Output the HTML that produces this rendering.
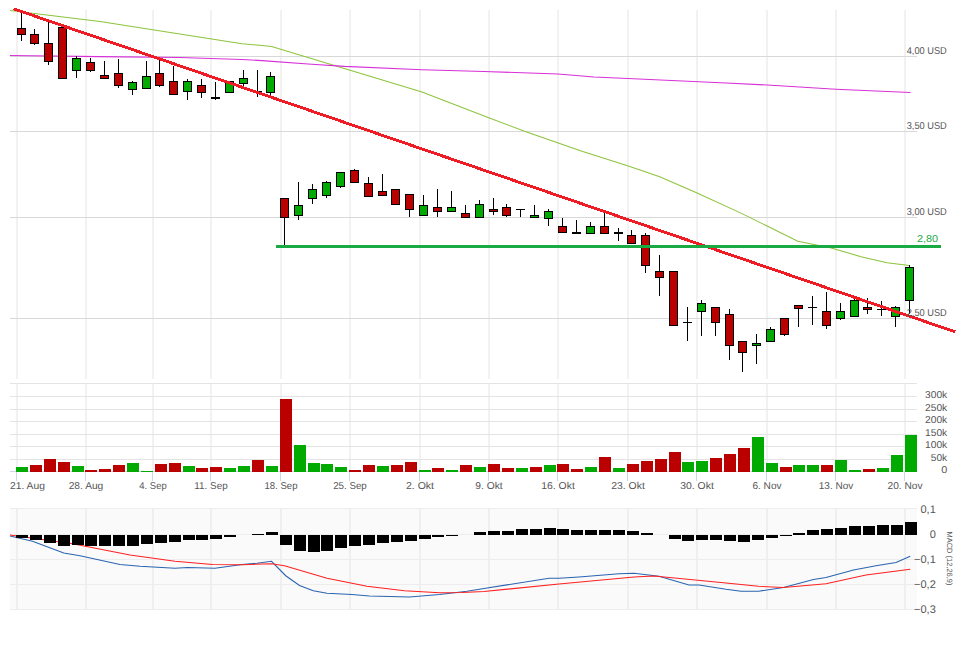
<!DOCTYPE html><html><head><meta charset="utf-8"><style>html,body{margin:0;padding:0;background:#fff;width:968px;height:645px;overflow:hidden}svg{display:block}text{font-family:"Liberation Sans",sans-serif;text-rendering:geometricPrecision}</style></head><body>
<svg width="968" height="645" viewBox="0 0 968 645">
<rect x="10" y="509" width="907" height="101" fill="#fafafa"/>
<path d="M17 10V379M17 383V471M17 509V610M86 10V379M86 383V471M86 509V610M153 10V379M153 383V471M153 509V610M211 10V379M211 383V471M211 509V610M281 10V379M281 383V471M281 509V610M350 10V379M350 383V471M350 509V610M420 10V379M420 383V471M420 509V610M489 10V379M489 383V471M489 509V610M558 10V379M558 383V471M558 509V610M628 10V379M628 383V471M628 509V610M697 10V379M697 383V471M697 509V610M767 10V379M767 383V471M767 509V610M836 10V379M836 383V471M836 509V610M905 10V379M905 383V471M905 509V610" stroke="#e4e4e4" stroke-width="1" fill="none"/>
<path d="M10 56.5H917M10 131.5H917M10 217.5H917M10 318.5H917" stroke="#d8d8d8" stroke-width="1" fill="none" shape-rendering="crispEdges"/>
<path d="M10 383.5H917M10 396.5H917M10 409.5H917M10 421.5H917M10 434.5H917M10 446.5H917M10 459.5H917" stroke="#e4e4e4" stroke-width="1" fill="none" shape-rendering="crispEdges"/>
<path d="M10 508.5H917M10 534.5H917M10 559.5H917M10 584.5H917M10 609.5H917" stroke="#ededed" stroke-width="1" fill="none" shape-rendering="crispEdges"/>
<path d="M10 471.5H917" stroke="#ccd6eb" stroke-width="1" shape-rendering="crispEdges"/>
<path d="M16.5 471V481M85.5 471V481M152.5 471V481M210.5 471V481M280.5 471V481M349.5 471V481M419.5 471V481M488.5 471V481M557.5 471V481M627.5 471V481M696.5 471V481M766.5 471V481M835.5 471V481M904.5 471V481" stroke="#ccd6eb" stroke-width="1" shape-rendering="crispEdges"/>
<polyline points="10,10.4 100,21.5 242,43.75 262,45.4 271.6,46.5 422,92.1 489.4,118 524.5,131.2 582,151.2 628.3,166 659.7,176.8 696,192.5 742,213.6 767.1,226 797.8,241.3 831.3,248 861,256.7 887,262.7 909.4,265.5" fill="none" stroke="#8cc43c" stroke-width="1.05"/>
<polyline points="10,55.5 100,56.6 180,57.5 242,59.5 262,60.6 311.6,64.2 344.6,66.4 422,69.7 484,71.5 558,74 594,77 628,78.5 726,83 767.25,85 836,89.25 910.5,92.5" fill="none" stroke="#d830d8" stroke-width="1.1"/>
<g shape-rendering="crispEdges"><path d="M21.5 12V41" stroke="#000" stroke-width="1"/><rect x="17.5" y="28.5" width="8" height="6" fill="#bb0000" stroke="#000" stroke-width="1"/><path d="M34.5 29V45" stroke="#000" stroke-width="1"/><rect x="30.5" y="34.5" width="8" height="9" fill="#bb0000" stroke="#000" stroke-width="1"/><path d="M48.5 22V65" stroke="#000" stroke-width="1"/><rect x="44.5" y="43.5" width="8" height="18" fill="#bb0000" stroke="#000" stroke-width="1"/><path d="M62.5 27V79" stroke="#000" stroke-width="1"/><rect x="58.5" y="27.5" width="8" height="51" fill="#bb0000" stroke="#000" stroke-width="1"/><path d="M76.5 56V78" stroke="#000" stroke-width="1"/><rect x="72.5" y="58.5" width="8" height="12" fill="#00aa00" stroke="#000" stroke-width="1"/><path d="M90.5 58V72" stroke="#000" stroke-width="1"/><rect x="86.5" y="62.5" width="8" height="8" fill="#bb0000" stroke="#000" stroke-width="1"/><path d="M104.5 61V79" stroke="#000" stroke-width="1"/><rect x="100.5" y="75.5" width="8" height="3" fill="#bb0000" stroke="#000" stroke-width="1"/><path d="M118.5 59V88" stroke="#000" stroke-width="1"/><rect x="114.5" y="73.5" width="8" height="12" fill="#bb0000" stroke="#000" stroke-width="1"/><path d="M132.5 81V95" stroke="#000" stroke-width="1"/><rect x="128.5" y="82.5" width="8" height="7" fill="#00aa00" stroke="#000" stroke-width="1"/><path d="M146.5 61V89" stroke="#000" stroke-width="1"/><rect x="142.5" y="76.5" width="8" height="12" fill="#00aa00" stroke="#000" stroke-width="1"/><path d="M159.5 60V87" stroke="#000" stroke-width="1"/><rect x="155.5" y="73.5" width="8" height="12" fill="#bb0000" stroke="#000" stroke-width="1"/><path d="M173.5 66V95" stroke="#000" stroke-width="1"/><rect x="169.5" y="81.5" width="8" height="13" fill="#bb0000" stroke="#000" stroke-width="1"/><path d="M187.5 79V100" stroke="#000" stroke-width="1"/><rect x="183.5" y="81.5" width="8" height="10" fill="#00aa00" stroke="#000" stroke-width="1"/><path d="M201.5 79V98" stroke="#000" stroke-width="1"/><rect x="197.5" y="85.5" width="8" height="7" fill="#bb0000" stroke="#000" stroke-width="1"/><path d="M215.5 82V100" stroke="#000" stroke-width="1"/><rect x="211" y="97" width="9" height="2" fill="#000"/><path d="M229.5 81V93" stroke="#000" stroke-width="1"/><rect x="225.5" y="81.5" width="8" height="11" fill="#00aa00" stroke="#000" stroke-width="1"/><path d="M243.5 70V86" stroke="#000" stroke-width="1"/><rect x="239.5" y="78.5" width="8" height="5" fill="#00aa00" stroke="#000" stroke-width="1"/><path d="M257.5 70V97" stroke="#000" stroke-width="1"/><rect x="253" y="91" width="9" height="1" fill="#000"/><path d="M270.5 72V96" stroke="#000" stroke-width="1"/><rect x="266.5" y="76.5" width="8" height="16" fill="#00aa00" stroke="#000" stroke-width="1"/><path d="M284.5 198V245" stroke="#000" stroke-width="1"/><rect x="280.5" y="198.5" width="8" height="19" fill="#bb0000" stroke="#000" stroke-width="1"/><path d="M298.5 182V220" stroke="#000" stroke-width="1"/><rect x="294.5" y="205.5" width="8" height="10" fill="#00aa00" stroke="#000" stroke-width="1"/><path d="M312.5 184V204" stroke="#000" stroke-width="1"/><rect x="308.5" y="189.5" width="8" height="9" fill="#00aa00" stroke="#000" stroke-width="1"/><path d="M326.5 181V198" stroke="#000" stroke-width="1"/><rect x="322.5" y="182.5" width="8" height="13" fill="#00aa00" stroke="#000" stroke-width="1"/><path d="M340.5 172V188" stroke="#000" stroke-width="1"/><rect x="336.5" y="172.5" width="8" height="14" fill="#00aa00" stroke="#000" stroke-width="1"/><path d="M354.5 169V183" stroke="#000" stroke-width="1"/><rect x="350.5" y="170.5" width="8" height="12" fill="#bb0000" stroke="#000" stroke-width="1"/><path d="M368.5 177V197" stroke="#000" stroke-width="1"/><rect x="364.5" y="183.5" width="8" height="13" fill="#bb0000" stroke="#000" stroke-width="1"/><path d="M382.5 174V196" stroke="#000" stroke-width="1"/><rect x="378.5" y="191.5" width="8" height="4" fill="#bb0000" stroke="#000" stroke-width="1"/><path d="M395.5 189V205" stroke="#000" stroke-width="1"/><rect x="391.5" y="189.5" width="8" height="15" fill="#bb0000" stroke="#000" stroke-width="1"/><path d="M409.5 194V217" stroke="#000" stroke-width="1"/><rect x="405.5" y="194.5" width="8" height="15" fill="#bb0000" stroke="#000" stroke-width="1"/><path d="M423.5 195V216" stroke="#000" stroke-width="1"/><rect x="419.5" y="205.5" width="8" height="10" fill="#00aa00" stroke="#000" stroke-width="1"/><path d="M437.5 189V217" stroke="#000" stroke-width="1"/><rect x="433.5" y="207.5" width="8" height="4" fill="#bb0000" stroke="#000" stroke-width="1"/><path d="M451.5 191V212" stroke="#000" stroke-width="1"/><rect x="447.5" y="207.5" width="8" height="4" fill="#00aa00" stroke="#000" stroke-width="1"/><path d="M465.5 205V218" stroke="#000" stroke-width="1"/><rect x="461.5" y="213.5" width="8" height="4" fill="#bb0000" stroke="#000" stroke-width="1"/><path d="M479.5 200V218" stroke="#000" stroke-width="1"/><rect x="475.5" y="204.5" width="8" height="13" fill="#00aa00" stroke="#000" stroke-width="1"/><path d="M493.5 198V215" stroke="#000" stroke-width="1"/><rect x="489.5" y="209.5" width="8" height="2" fill="#bb0000" stroke="#000" stroke-width="1"/><path d="M506.5 204V217" stroke="#000" stroke-width="1"/><rect x="502.5" y="207.5" width="8" height="8" fill="#bb0000" stroke="#000" stroke-width="1"/><path d="M520.5 209V217" stroke="#000" stroke-width="1"/><rect x="516" y="209" width="9" height="1" fill="#000"/><path d="M534.5 205V218" stroke="#000" stroke-width="1"/><rect x="530.5" y="215.5" width="8" height="2" fill="#00aa00" stroke="#000" stroke-width="1"/><path d="M548.5 209V226" stroke="#000" stroke-width="1"/><rect x="544.5" y="211.5" width="8" height="7" fill="#00aa00" stroke="#000" stroke-width="1"/><path d="M562.5 218V233" stroke="#000" stroke-width="1"/><rect x="558.5" y="226.5" width="8" height="6" fill="#bb0000" stroke="#000" stroke-width="1"/><path d="M576.5 220V234" stroke="#000" stroke-width="1"/><rect x="572" y="232" width="9" height="2" fill="#000"/><path d="M590.5 222V234" stroke="#000" stroke-width="1"/><rect x="586.5" y="226.5" width="8" height="7" fill="#00aa00" stroke="#000" stroke-width="1"/><path d="M604.5 212V234" stroke="#000" stroke-width="1"/><rect x="600.5" y="226.5" width="8" height="7" fill="#bb0000" stroke="#000" stroke-width="1"/><path d="M618.5 228V241" stroke="#000" stroke-width="1"/><rect x="614" y="232" width="9" height="2" fill="#000"/><path d="M631.5 230V244" stroke="#000" stroke-width="1"/><rect x="627.5" y="235.5" width="8" height="8" fill="#bb0000" stroke="#000" stroke-width="1"/><path d="M645.5 233V273" stroke="#000" stroke-width="1"/><rect x="641.5" y="235.5" width="8" height="30" fill="#bb0000" stroke="#000" stroke-width="1"/><path d="M659.5 255V296" stroke="#000" stroke-width="1"/><rect x="655.5" y="271.5" width="8" height="6" fill="#bb0000" stroke="#000" stroke-width="1"/><path d="M673.5 271V326" stroke="#000" stroke-width="1"/><rect x="669.5" y="271.5" width="8" height="54" fill="#bb0000" stroke="#000" stroke-width="1"/><path d="M687.5 307V341" stroke="#000" stroke-width="1"/><rect x="683" y="322" width="9" height="1" fill="#000"/><path d="M701.5 300V336" stroke="#000" stroke-width="1"/><rect x="697.5" y="303.5" width="8" height="8" fill="#00aa00" stroke="#000" stroke-width="1"/><path d="M715.5 307V336" stroke="#000" stroke-width="1"/><rect x="711.5" y="307.5" width="8" height="15" fill="#bb0000" stroke="#000" stroke-width="1"/><path d="M729.5 309V360" stroke="#000" stroke-width="1"/><rect x="725.5" y="314.5" width="8" height="31" fill="#bb0000" stroke="#000" stroke-width="1"/><path d="M742.5 341V372" stroke="#000" stroke-width="1"/><rect x="738.5" y="341.5" width="8" height="11" fill="#bb0000" stroke="#000" stroke-width="1"/><path d="M756.5 334V364" stroke="#000" stroke-width="1"/><rect x="752.5" y="343.5" width="8" height="2" fill="#00aa00" stroke="#000" stroke-width="1"/><path d="M770.5 327V342" stroke="#000" stroke-width="1"/><rect x="766.5" y="329.5" width="8" height="12" fill="#00aa00" stroke="#000" stroke-width="1"/><path d="M784.5 318V336" stroke="#000" stroke-width="1"/><rect x="780.5" y="318.5" width="8" height="16" fill="#bb0000" stroke="#000" stroke-width="1"/><path d="M798.5 305V327" stroke="#000" stroke-width="1"/><rect x="794.5" y="305.5" width="8" height="3" fill="#bb0000" stroke="#000" stroke-width="1"/><path d="M812.5 296V325" stroke="#000" stroke-width="1"/><rect x="808" y="307" width="9" height="1" fill="#000"/><path d="M826.5 292V329" stroke="#000" stroke-width="1"/><rect x="822.5" y="311.5" width="8" height="14" fill="#bb0000" stroke="#000" stroke-width="1"/><path d="M840.5 303V320" stroke="#000" stroke-width="1"/><rect x="836.5" y="311.5" width="8" height="7" fill="#00aa00" stroke="#000" stroke-width="1"/><path d="M854.5 299V317" stroke="#000" stroke-width="1"/><rect x="850.5" y="300.5" width="8" height="16" fill="#00aa00" stroke="#000" stroke-width="1"/><path d="M867.5 298V314" stroke="#000" stroke-width="1"/><rect x="863.5" y="307.5" width="8" height="2" fill="#bb0000" stroke="#000" stroke-width="1"/><path d="M881.5 301V316" stroke="#000" stroke-width="1"/><rect x="877" y="309" width="9" height="1" fill="#000"/><path d="M895.5 306V327" stroke="#000" stroke-width="1"/><rect x="891.5" y="307.5" width="8" height="9" fill="#00aa00" stroke="#000" stroke-width="1"/><path d="M909.5 265V314" stroke="#000" stroke-width="1"/><rect x="905.5" y="267.5" width="8" height="33" fill="#00aa00" stroke="#000" stroke-width="1"/></g>
<line x1="13.5" y1="8.8" x2="955.3" y2="331.9" stroke="#ee1c24" stroke-width="2.9" shape-rendering="crispEdges"/>
<rect x="276" y="245" width="665" height="3" fill="#1aaa44"/>
<g shape-rendering="crispEdges"><rect x="16" y="467" width="12" height="5" fill="#00aa00"/><rect x="30" y="465" width="12" height="7" fill="#bb0000"/><rect x="44" y="459" width="12" height="13" fill="#bb0000"/><rect x="58" y="462" width="12" height="10" fill="#bb0000"/><rect x="72" y="466" width="12" height="6" fill="#00aa00"/><rect x="85" y="470" width="12" height="2" fill="#bb0000"/><rect x="99" y="469" width="12" height="3" fill="#bb0000"/><rect x="113" y="465" width="12" height="7" fill="#bb0000"/><rect x="127" y="463" width="12" height="9" fill="#00aa00"/><rect x="141" y="471" width="12" height="1" fill="#00aa00"/><rect x="155" y="464" width="12" height="8" fill="#bb0000"/><rect x="169" y="463" width="12" height="9" fill="#bb0000"/><rect x="183" y="466" width="12" height="6" fill="#00aa00"/><rect x="196" y="468" width="12" height="4" fill="#bb0000"/><rect x="210" y="467" width="12" height="5" fill="#bb0000"/><rect x="224" y="468" width="12" height="4" fill="#00aa00"/><rect x="238" y="466" width="12" height="6" fill="#00aa00"/><rect x="252" y="460" width="12" height="12" fill="#bb0000"/><rect x="266" y="466" width="12" height="6" fill="#00aa00"/><rect x="280" y="399" width="12" height="73" fill="#bb0000"/><rect x="294" y="445" width="12" height="27" fill="#00aa00"/><rect x="308" y="463" width="12" height="9" fill="#00aa00"/><rect x="321" y="464" width="12" height="8" fill="#00aa00"/><rect x="335" y="467" width="12" height="5" fill="#00aa00"/><rect x="349" y="470" width="12" height="2" fill="#bb0000"/><rect x="363" y="465" width="12" height="7" fill="#bb0000"/><rect x="377" y="466" width="12" height="6" fill="#00aa00"/><rect x="391" y="465" width="12" height="7" fill="#bb0000"/><rect x="405" y="462" width="12" height="10" fill="#bb0000"/><rect x="419" y="470" width="12" height="2" fill="#00aa00"/><rect x="432" y="468" width="12" height="4" fill="#bb0000"/><rect x="446" y="470" width="12" height="2" fill="#00aa00"/><rect x="460" y="465" width="12" height="7" fill="#bb0000"/><rect x="474" y="467" width="12" height="5" fill="#00aa00"/><rect x="488" y="464" width="12" height="8" fill="#bb0000"/><rect x="502" y="468" width="12" height="4" fill="#bb0000"/><rect x="516" y="468" width="12" height="4" fill="#00aa00"/><rect x="530" y="467" width="12" height="5" fill="#bb0000"/><rect x="544" y="465" width="12" height="7" fill="#00aa00"/><rect x="557" y="464" width="12" height="8" fill="#bb0000"/><rect x="571" y="469" width="12" height="3" fill="#bb0000"/><rect x="585" y="467" width="12" height="5" fill="#00aa00"/><rect x="599" y="457" width="12" height="15" fill="#bb0000"/><rect x="613" y="468" width="12" height="4" fill="#00aa00"/><rect x="627" y="464" width="12" height="8" fill="#bb0000"/><rect x="641" y="461" width="12" height="11" fill="#bb0000"/><rect x="655" y="459" width="12" height="13" fill="#bb0000"/><rect x="669" y="452" width="12" height="20" fill="#bb0000"/><rect x="682" y="462" width="12" height="10" fill="#00aa00"/><rect x="696" y="461" width="12" height="11" fill="#00aa00"/><rect x="710" y="458" width="12" height="14" fill="#bb0000"/><rect x="724" y="454" width="12" height="18" fill="#bb0000"/><rect x="738" y="448" width="12" height="24" fill="#bb0000"/><rect x="752" y="437" width="12" height="35" fill="#00aa00"/><rect x="766" y="463" width="12" height="9" fill="#00aa00"/><rect x="780" y="467" width="12" height="5" fill="#bb0000"/><rect x="793" y="465" width="12" height="7" fill="#00aa00"/><rect x="807" y="465" width="12" height="7" fill="#00aa00"/><rect x="821" y="465" width="12" height="7" fill="#bb0000"/><rect x="835" y="460" width="12" height="12" fill="#00aa00"/><rect x="849" y="470" width="12" height="2" fill="#00aa00"/><rect x="863" y="469" width="12" height="3" fill="#bb0000"/><rect x="877" y="468" width="12" height="4" fill="#00aa00"/><rect x="891" y="455" width="12" height="17" fill="#00aa00"/><rect x="905" y="435" width="12" height="37" fill="#00aa00"/></g>
<polyline points="10,536 32.5,541.25 63.75,553 80,555.75 120,564.5 140,566.25 175,568.25 187.5,567.5 215,568.25 242,564.5 257,563.25 271.5,561.25 285.75,575.75 299.5,585.5 313.25,590.75 327,593.25 352,594.5 369.5,596 409.5,597 439.5,594.5 467,591.25 484,588.5 549,578.25 559,578.25 579,577 619,573.75 634,573.25 659,576.25 689,585 699,585 726,589.25 741,591.25 758.5,591.25 783.5,587.5 813.5,579.5 826,577.5 853.5,570 876,565.75 896,562.5 910.25,556.25" fill="none" stroke="#2a64b0" stroke-width="1.1"/>
<polyline points="10,535 72.5,543.75 130,555 175,561.25 212.5,564.5 242,564.75 271.5,563.75 284.5,565.75 327,578.25 367,586.25 404.5,590.75 439.5,592.75 462,592.5 484,591.5 559,584 634,577 654,576 726,583 758.5,586.25 783.5,587.5 826,583.75 866,575 910.25,569.25" fill="none" stroke="#ff2020" stroke-width="1.05"/>
<g shape-rendering="crispEdges"><rect x="16" y="535" width="12" height="3" fill="#000"/><rect x="30" y="535" width="12" height="5" fill="#000"/><rect x="44" y="535" width="12" height="8" fill="#000"/><rect x="58" y="535" width="12" height="11" fill="#000"/><rect x="72" y="535" width="12" height="10" fill="#000"/><rect x="85" y="535" width="12" height="11" fill="#000"/><rect x="99" y="535" width="12" height="11" fill="#000"/><rect x="113" y="535" width="12" height="11" fill="#000"/><rect x="127" y="535" width="12" height="11" fill="#000"/><rect x="141" y="535" width="12" height="9" fill="#000"/><rect x="155" y="535" width="12" height="8" fill="#000"/><rect x="169" y="535" width="12" height="7" fill="#000"/><rect x="183" y="535" width="12" height="5" fill="#000"/><rect x="196" y="535" width="12" height="5" fill="#000"/><rect x="210" y="535" width="12" height="4" fill="#000"/><rect x="224" y="535" width="12" height="2" fill="#000"/><rect x="252" y="534" width="12" height="1" fill="#000"/><rect x="266" y="532" width="12" height="3" fill="#000"/><rect x="280" y="535" width="12" height="10" fill="#000"/><rect x="294" y="535" width="12" height="16" fill="#000"/><rect x="308" y="535" width="12" height="17" fill="#000"/><rect x="321" y="535" width="12" height="16" fill="#000"/><rect x="335" y="535" width="12" height="13" fill="#000"/><rect x="349" y="535" width="12" height="11" fill="#000"/><rect x="363" y="535" width="12" height="10" fill="#000"/><rect x="377" y="535" width="12" height="8" fill="#000"/><rect x="391" y="535" width="12" height="7" fill="#000"/><rect x="405" y="535" width="12" height="6" fill="#000"/><rect x="419" y="535" width="12" height="4" fill="#000"/><rect x="432" y="535" width="12" height="2" fill="#000"/><rect x="446" y="535" width="12" height="1" fill="#000"/><rect x="474" y="532" width="12" height="3" fill="#000"/><rect x="488" y="531" width="12" height="4" fill="#000"/><rect x="502" y="531" width="12" height="4" fill="#000"/><rect x="516" y="529" width="12" height="6" fill="#000"/><rect x="530" y="529" width="12" height="6" fill="#000"/><rect x="544" y="528" width="12" height="7" fill="#000"/><rect x="557" y="529" width="12" height="6" fill="#000"/><rect x="571" y="530" width="12" height="5" fill="#000"/><rect x="585" y="530" width="12" height="5" fill="#000"/><rect x="599" y="530" width="12" height="5" fill="#000"/><rect x="613" y="530" width="12" height="5" fill="#000"/><rect x="627" y="531" width="12" height="4" fill="#000"/><rect x="641" y="533" width="12" height="2" fill="#000"/><rect x="669" y="535" width="12" height="4" fill="#000"/><rect x="682" y="535" width="12" height="6" fill="#000"/><rect x="696" y="535" width="12" height="5" fill="#000"/><rect x="710" y="535" width="12" height="5" fill="#000"/><rect x="724" y="535" width="12" height="6" fill="#000"/><rect x="738" y="535" width="12" height="7" fill="#000"/><rect x="752" y="535" width="12" height="5" fill="#000"/><rect x="766" y="535" width="12" height="3" fill="#000"/><rect x="780" y="535" width="12" height="1" fill="#000"/><rect x="793" y="533" width="12" height="2" fill="#000"/><rect x="807" y="530" width="12" height="5" fill="#000"/><rect x="821" y="529" width="12" height="6" fill="#000"/><rect x="835" y="528" width="12" height="7" fill="#000"/><rect x="849" y="526" width="12" height="9" fill="#000"/><rect x="863" y="526" width="12" height="9" fill="#000"/><rect x="877" y="525" width="12" height="10" fill="#000"/><rect x="891" y="525" width="12" height="10" fill="#000"/><rect x="905" y="522" width="12" height="13" fill="#000"/></g>
<text x="906.7" y="53.9" font-size="10" fill="#555555" textLength="40.1" lengthAdjust="spacingAndGlyphs">4,00 USD</text>
<text x="906.7" y="128.9" font-size="10" fill="#555555" textLength="40.1" lengthAdjust="spacingAndGlyphs">3,50 USD</text>
<text x="906.7" y="214.9" font-size="10" fill="#555555" textLength="40.1" lengthAdjust="spacingAndGlyphs">3,00 USD</text>
<text x="906.7" y="315.9" font-size="10" fill="#555555" textLength="40.1" lengthAdjust="spacingAndGlyphs">2,50 USD</text>
<text x="917" y="241.9" font-size="10" fill="#1aaa44" textLength="21.1" lengthAdjust="spacingAndGlyphs">2,80</text>
<text x="947.2" y="398" text-anchor="end" font-size="10" fill="#555555" textLength="22.2" lengthAdjust="spacingAndGlyphs">300k</text>
<text x="947.2" y="410.8" text-anchor="end" font-size="10" fill="#555555" textLength="22.2" lengthAdjust="spacingAndGlyphs">250k</text>
<text x="947.2" y="422.9" text-anchor="end" font-size="10" fill="#555555" textLength="22.2" lengthAdjust="spacingAndGlyphs">200k</text>
<text x="947.2" y="435.8" text-anchor="end" font-size="10" fill="#555555" textLength="22.2" lengthAdjust="spacingAndGlyphs">150k</text>
<text x="947.2" y="448" text-anchor="end" font-size="10" fill="#555555" textLength="22.2" lengthAdjust="spacingAndGlyphs">100k</text>
<text x="947.2" y="460.8" text-anchor="end" font-size="10" fill="#555555" textLength="16.4" lengthAdjust="spacingAndGlyphs">50k</text>
<text x="947.2" y="473" text-anchor="end" font-size="10" fill="#555555" textLength="6.0" lengthAdjust="spacingAndGlyphs">0</text>
<text x="10.0" y="489" font-size="10" fill="#555555" textLength="34.9" lengthAdjust="spacingAndGlyphs">21. Aug</text>
<text x="86" y="489" text-anchor="middle" font-size="10" fill="#555555" textLength="34.599999999999994" lengthAdjust="spacingAndGlyphs">28. Aug</text>
<text x="153" y="489" text-anchor="middle" font-size="10" fill="#555555" textLength="27.400000000000002" lengthAdjust="spacingAndGlyphs">4. Sep</text>
<text x="211" y="489" text-anchor="middle" font-size="10" fill="#555555" textLength="33.3" lengthAdjust="spacingAndGlyphs">11. Sep</text>
<text x="281" y="489" text-anchor="middle" font-size="10" fill="#555555" textLength="33.099999999999994" lengthAdjust="spacingAndGlyphs">18. Sep</text>
<text x="350" y="489" text-anchor="middle" font-size="10" fill="#555555" textLength="33.599999999999994" lengthAdjust="spacingAndGlyphs">25. Sep</text>
<text x="420" y="489" text-anchor="middle" font-size="10" fill="#555555" textLength="28.1" lengthAdjust="spacingAndGlyphs">2. Okt</text>
<text x="489" y="489" text-anchor="middle" font-size="10" fill="#555555" textLength="27.400000000000002" lengthAdjust="spacingAndGlyphs">9. Okt</text>
<text x="558" y="489" text-anchor="middle" font-size="10" fill="#555555" textLength="33.599999999999994" lengthAdjust="spacingAndGlyphs">16. Okt</text>
<text x="628" y="489" text-anchor="middle" font-size="10" fill="#555555" textLength="33.599999999999994" lengthAdjust="spacingAndGlyphs">23. Okt</text>
<text x="697" y="489" text-anchor="middle" font-size="10" fill="#555555" textLength="33.599999999999994" lengthAdjust="spacingAndGlyphs">30. Okt</text>
<text x="767" y="489" text-anchor="middle" font-size="10" fill="#555555" textLength="29.2" lengthAdjust="spacingAndGlyphs">6. Nov</text>
<text x="836" y="489" text-anchor="middle" font-size="10" fill="#555555" textLength="34.5" lengthAdjust="spacingAndGlyphs">13. Nov</text>
<text x="905" y="489" text-anchor="middle" font-size="10" fill="#555555" textLength="34.9" lengthAdjust="spacingAndGlyphs">20. Nov</text>
<text x="935.8" y="512.9" text-anchor="end" font-size="11" fill="#555555">0,1</text>
<text x="935.8" y="537.8" text-anchor="end" font-size="11" fill="#555555">0</text>
<text x="935.8" y="563" text-anchor="end" font-size="11" fill="#555555">−0,1</text>
<text x="935.8" y="588" text-anchor="end" font-size="11" fill="#555555">−0,2</text>
<text x="935.8" y="612.8" text-anchor="end" font-size="11" fill="#555555">−0,3</text>
<text transform="translate(946.6,531.5) rotate(90)" font-size="7.6" fill="#555555" textLength="54" lengthAdjust="spacingAndGlyphs">MACD (12,26,9)</text>
</svg></body></html>
